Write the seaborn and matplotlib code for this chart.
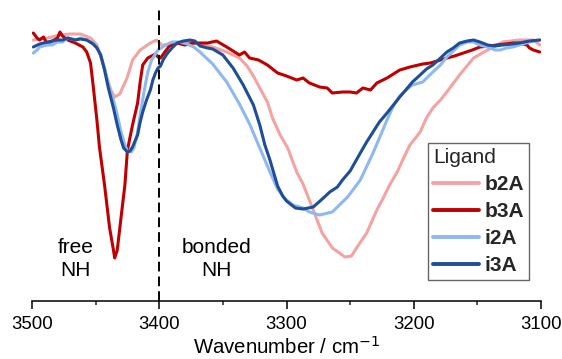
import numpy as np
import pandas as pd
import matplotlib
matplotlib.use("Agg")
import matplotlib.pyplot as plt
import seaborn as sns

# ---- data (wavenumber / cm-1, signal in arbitrary units) ----
b2A_wn = [3499,3488,3478,3470,3462,3454,3449,3444,3441,3438,3435,3431,3425,3421,3415,3407,3402,3398,3392,3380,
          3368,3358,3347,3337,3331,3326,3321,3315,3311,3305,3299,3295,3292,3287,3279,3272,3264,3254,3249,3245,
          3237,3229,3224,3219,3213,3208,3203,3195,3190,3185,3179,3174,3164,3153,3142,3130,3117,3106,3101]
b2A_val = [261,263,266,267,267,263,256,236,223,211,204,207,224,241,251,258,261,256,256,259,
           257,254,249,243,235,225,213,199,183,166,153,139,129,117,91,68,53,44,45,53,
           68,91,103,116,129,143,156,169,183,193,201,209,226,243,251,259,261,261,256]

b3A_wn = [3499,3496,3494,3491,3488,3484,3480,3478,3476,3472,3466,3460,3457,3454,3452,3449,3447,3443,3439,3436,
          3435,3433,3431,3427,3425,3421,3417,3415,3413,3409,3403,3401,3399,3395,3392,3386,3380,3373,3362,3355,
          3347,3337,3333,3329,3322,3315,3307,3300,3292,3287,3282,3274,3268,3264,3256,3250,3245,3240,3234,3229,
          3221,3211,3203,3193,3187,3179,3174,3168,3161,3154,3148,3140,3135,3128,3122,3117,3111,3109,3106,3101]
b3A_val = [268,263,261,264,257,260,263,269,265,261,258,254,249,238,216,181,154,116,73,51,
           43,51,73,116,151,176,198,219,236,243,247,244,243,250,255,258,256,258,258,260,
           254,246,249,243,241,236,228,225,221,223,218,214,213,208,209,209,208,213,211,218,
           223,231,234,237,238,241,243,245,248,251,254,255,256,257,258,258,256,253,251,249]

i2A_wn = [3499,3496,3494,3488,3484,3480,3476,3472,3466,3462,3457,3452,3449,3446,3443,3440,3436,3433,3430,3427,
          3425,3422,3420,3417,3415,3412,3409,3406,3401,3395,3390,3384,3378,3373,3368,3358,3347,3337,3329,3321,
          3313,3307,3301,3295,3287,3282,3274,3264,3252,3242,3232,3227,3221,3216,3211,3205,3201,3193,3185,3179,
          3174,3168,3164,3158,3153,3148,3142,3136,3132,3127,3122,3117,3109,3101]
i2A_val = [248,251,254,256,256,259,259,263,261,263,261,258,254,246,233,216,201,186,169,156,
           150,149,153,169,186,209,229,241,251,256,259,259,257,254,249,237,219,197,177,153,
           129,112,102,96,93,89,86,89,104,121,148,163,181,195,205,212,216,219,229,236,
           244,251,256,259,259,256,254,251,251,253,254,256,259,261]

i3A_wn = [3499,3494,3488,3480,3476,3472,3466,3462,3457,3452,3449,3446,3443,3440,3436,3433,3430,3428,3425,3423,
          3421,3417,3415,3413,3410,3407,3405,3403,3401,3399,3397,3394,3390,3386,3381,3376,3372,3368,3362,3358,
          3350,3342,3334,3326,3321,3317,3313,3307,3303,3300,3293,3287,3279,3271,3266,3260,3256,3250,3242,3237,
          3232,3227,3221,3216,3211,3205,3201,3195,3190,3185,3179,3174,3169,3164,3158,3153,3148,3142,3136,3130,
          3122,3117,3109,3101]
i3A_val = [254,257,259,261,261,263,261,262,261,257,253,246,231,213,193,176,161,153,149,150,
           154,166,179,189,201,211,221,228,233,235,241,247,253,258,260,261,260,255,253,252,
           246,233,216,196,176,156,141,115,105,100,93,92,94,103,109,114,121,130,148,159,
           169,179,188,196,204,213,219,226,232,236,243,249,253,258,260,261,259,256,255,256,
           257,258,260,261]

ligands = ["b2A", "b3A", "i2A", "i3A"]
colors = ["#F4A3A3", "#C00000", "#8DB9EE", "#1F4E99"]
x_ticks = [3500, 3400, 3300, 3200, 3100]
region_labels = ["free\nNH", "bonded\nNH"]
region_x = [3466, 3355]
divider_x = 3400

series = {"b2A": (b2A_wn, b2A_val), "b3A": (b3A_wn, b3A_val),
          "i2A": (i2A_wn, i2A_val), "i3A": (i3A_wn, i3A_val)}
frames = []
for name in ligands:
    wn, val = series[name]
    frames.append(pd.DataFrame({"Wavenumber": wn, "Signal": val, "Ligand": name}))
df = pd.concat(frames, ignore_index=True)

sns.set_theme(style="ticks")
plt.rcParams["font.family"] = ["Liberation Sans", "DejaVu Sans"]

fig = plt.figure(figsize=(5.62, 3.59), dpi=100)
ax = fig.add_axes([32/562, 58/359, 509/562, 291/359])

sns.lineplot(data=df, x="Wavenumber", y="Signal", hue="Ligand", hue_order=ligands,
             palette=colors, linewidth=2.2, estimator=None, ax=ax, legend=True)

ax.axvline(divider_x, color="black", lw=1.4, linestyle=(0, (5, 2.6)), zorder=5)

for lab, xv in zip(region_labels, region_x):
    ax.text(xv, 42, lab, ha="center", va="center", fontsize=15, linespacing=1.3, color="black")

ax.set_xlim(3500, 3100)
ax.set_ylim(0, 291)
ax.set_xticks(x_ticks)
ax.set_xticks([3450, 3350, 3250, 3150], minor=True)
ax.set_xticklabels([str(t) for t in x_ticks], fontsize=13.4)
ax.tick_params(axis="x", which="major", direction="out", length=5.5, width=1.1, pad=5.5, colors="black")
ax.tick_params(axis="x", which="minor", direction="out", length=3.2, width=1.1)
ax.set_yticks([])
ax.set_ylabel("")
ax.set_xlabel("Wavenumber / cm$^{-1}$", fontsize=14.7, labelpad=2.2, color="black")
for s in ["left", "top", "right"]:
    ax.spines[s].set_visible(False)
ax.spines["bottom"].set_linewidth(1.1)
ax.spines["bottom"].set_color("black")
ax.set_facecolor("white")

handles, labels = ax.get_legend_handles_labels()
leg = ax.legend(handles, labels, title="Ligand", loc="upper left",
                bbox_to_anchor=((428 - 32) / 509, (301 - 143) / 291), borderaxespad=0,
                fontsize=15, title_fontsize=15, frameon=True, fancybox=False,
                edgecolor="#404040", handlelength=2.2, handletextpad=0.25,
                labelspacing=0.38, borderpad=0.25, alignment="left")
leg.get_frame().set_linewidth(1.0)
for t in leg.get_texts():
    t.set_fontweight("bold")
for h in leg.legend_handles:
    h.set_linewidth(2.8)

fig.savefig("out.png", dpi=100, facecolor="white")
